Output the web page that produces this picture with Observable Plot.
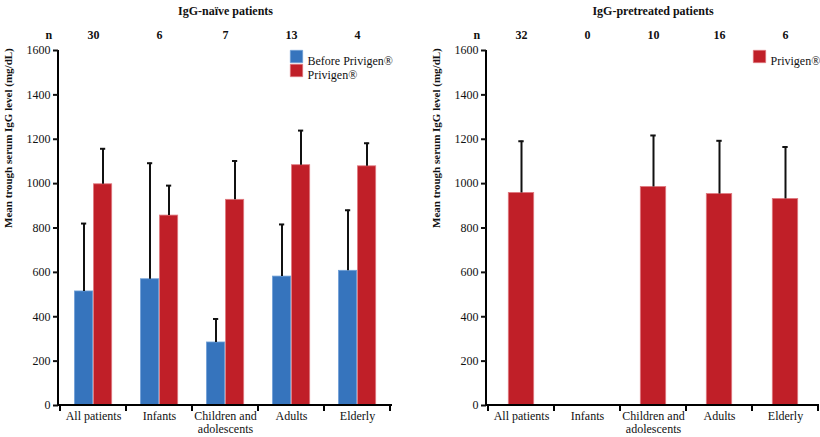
<!DOCTYPE html>
<html><head><meta charset="utf-8">
<script src="https://cdn.jsdelivr.net/npm/d3@7"></script>
<script src="https://cdn.jsdelivr.net/npm/@observablehq/plot@0.6"></script>
<style>
body{margin:0;background:#fff}
#wrap{display:flex;width:820px;height:437px}
</style>
</head><body><div id="wrap"></div>
<script>
// ---- data ----
const categories = ["All patients", "Infants", "Children and\nadolescents", "Adults", "Elderly"];
const yTicks = [0, 200, 400, 600, 800, 1000, 1200, 1400, 1600];
const yLabel = "Mean trough serum IgG level (mg/dL)";

const naiveTitle = "IgG-naïve patients";
const naiveN = [30, 6, 7, 13, 4];
const naiveBeforeMean = [514, 569, 284, 581, 607];
const naiveBeforeSD = [306, 523, 106, 235, 273];
const naivePrivigenMean = [997, 856, 927, 1083, 1078];
const naivePrivigenSD = [160, 135, 175, 156, 104];

const pretreatedTitle = "IgG-pretreated patients";
const pretreatedN = [32, 0, 10, 16, 6];
const pretreatedMean = [958, null, 985, 953, 931];
const pretreatedSD = [233, null, 232, 240, 234];

const seriesBefore = "Before Privigen®";
const seriesPrivigen = "Privigen®";

// ---- styles ----
const BLUE = "#3674bd", RED = "#c01f28";
const FONT = "'Liberation Serif', 'Times New Roman', serif";

function rowsOf(key, mean, sd) {
  return categories.map((c, i) => ({cat: c, key, mean: mean[i], upper: mean[i] == null ? null : mean[i] + sd[i]}))
    .filter(d => d.mean != null);
}

const axisLines = (index, {x, y}, values, {width, marginLeft, marginRight}) => {
  const g = d3.create("svg:g").attr("stroke", "#000").attr("fill", "none").attr("stroke-width", 2);
  const y0 = y(0), yTop = y(yTicks[yTicks.length - 1]);
  g.append("path").attr("d", `M${marginLeft},${yTop}V${y0}H${width - marginRight}`);
  const dom = x.domain(), bw = x.bandwidth();
  const edges = dom.map(d => x(d)).concat([x(dom[dom.length - 1]) + bw]);
  for (const e of edges) g.append("line").attr("x1", e).attr("x2", e).attr("y1", y0).attr("y2", y0 + 6);
  return g.node();
};

function legendMarks(series, legendDx) {
  return series.flatMap((s, i) => [
    Plot.dot([s], {frameAnchor: "top-right", dx: legendDx, dy: 6 + i * 14, symbol: "square", r: 7, fill: s.color, stroke: s.edge, strokeWidth: 0.6}),
    Plot.text([s], {frameAnchor: "top-right", dx: legendDx + 11, dy: 6 + i * 14, text: "key", textAnchor: "start", fontSize: 12})
  ]);
}

function panel(opts) {
  const {title, n, series, marginLeft, marginRight, legendDx} = opts;
  const marks = [];
  for (const s of series) {
    marks.push(Plot.barY(s.rows, {x: "cat", y: "mean", fill: s.color, stroke: s.edge, strokeWidth: 0.8,
      insetLeft: s.inL, insetRight: s.inR}));
    marks.push(Plot.ruleX(s.rows, {x: "cat", y1: "mean", y2: "upper", dx: s.dx, stroke: "#111", strokeWidth: 2}));
    marks.push(Plot.tickY(s.rows, {x: "cat", y: "upper", stroke: "#111", strokeWidth: 2,
      insetLeft: s.inL + s.barW / 2 - 3, insetRight: s.inR + s.barW / 2 - 3}));
  }
  marks.push(
    axisLines,
    Plot.axisY({ticks: yTicks, tickFormat: d3.format("d"), tickSize: 5, tickPadding: 3, strokeWidth: 2, label: null, fontSize: 12}),
    Plot.axisX({tickSize: 0, tickPadding: 6, label: null, fontSize: 12, lineHeight: 1.05}),
    Plot.text([yLabel], {frameAnchor: "left", dx: -50, rotate: -90, fontWeight: "bold", fontSize: 11}),
    Plot.text([title], {frameAnchor: "top", dy: -44, fontWeight: "bold", fontSize: 12}),
    Plot.text(["n"], {frameAnchor: "top-left", dx: -13, dy: -20, fontWeight: "bold", fontSize: 12}),
    Plot.text(categories, {x: d => d, text: (d, i) => String(n[i]), frameAnchor: "top", dy: -20, fontWeight: "bold", fontSize: 12}),
    ...legendMarks(series, legendDx)
  );
  return Plot.plot({
    width: 410, height: 437,
    marginTop: 50, marginBottom: 32, marginLeft, marginRight,
    style: {fontFamily: FONT, fontSize: "12px", color: "#111", background: "#fff"},
    x: {type: "band", domain: categories, padding: 0},
    y: {domain: [0, yTicks[yTicks.length - 1]]},
    marks
  });
}

const wrap = document.getElementById("wrap");
wrap.append(panel({
  title: naiveTitle, n: naiveN, marginLeft: 58, marginRight: 18, legendDx: -96,
  series: [
    {key: seriesBefore, color: BLUE, edge: "#6f9fd6", rows: rowsOf(seriesBefore, naiveBeforeMean, naiveBeforeSD), inL: 14.5, inR: 33.3, barW: 19, dx: -9.5},
    {key: seriesPrivigen, color: RED, edge: "#e07a80", rows: rowsOf(seriesPrivigen, naivePrivigenMean, naivePrivigenSD), inL: 33.5, inR: 14.3, barW: 19, dx: 9.5}
  ]
}));
wrap.append(panel({
  title: pretreatedTitle, n: pretreatedN, marginLeft: 76, marginRight: 1, legendDx: -60,
  series: [
    {key: seriesPrivigen, color: RED, edge: "#e07a80", rows: rowsOf(seriesPrivigen, pretreatedMean, pretreatedSD), inL: 20.3, inR: 20.3, barW: 26, dx: 0}
  ]
}));
</script></body></html>
